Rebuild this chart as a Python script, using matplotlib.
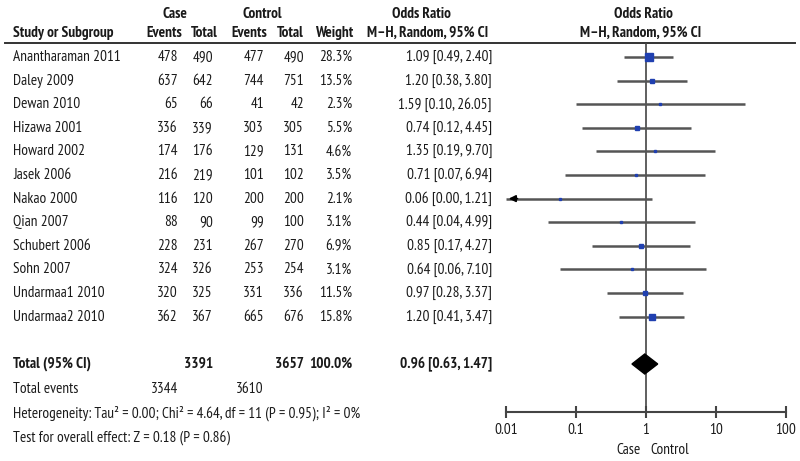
import numpy as np
import matplotlib
matplotlib.use('Agg')
import matplotlib.pyplot as plt
from matplotlib.patches import Polygon

plt.rcParams['font.family'] = ['PT Sans Narrow', 'DejaVu Sans']

# data
studies = ['Anantharaman 2011', 'Daley 2009', 'Dewan 2010', 'Hizawa 2001', 'Howard 2002',
           'Jasek 2006', 'Nakao 2000', 'Qian 2007', 'Schubert 2006', 'Sohn 2007',
           'Undarmaa1 2010', 'Undarmaa2 2010']
case_events = [478, 637, 65, 336, 174, 216, 116, 88, 228, 324, 320, 362]
case_total = [490, 642, 66, 339, 176, 219, 120, 90, 231, 326, 325, 367]
ctrl_events = [477, 744, 41, 303, 129, 101, 200, 99, 267, 253, 331, 665]
ctrl_total = [490, 751, 42, 305, 131, 102, 200, 100, 270, 254, 336, 676]
weights = [28.3, 13.5, 2.3, 5.5, 4.6, 3.5, 2.1, 3.1, 6.9, 3.1, 11.5, 15.8]
odds = [1.09, 1.20, 1.59, 0.74, 1.35, 0.71, 0.06, 0.44, 0.85, 0.64, 0.97, 1.20]
ci_low = [0.49, 0.38, 0.10, 0.12, 0.19, 0.07, 0.00, 0.04, 0.17, 0.06, 0.28, 0.41]
ci_high = [2.40, 3.80, 26.05, 4.45, 9.70, 6.94, 1.21, 4.99, 4.27, 7.10, 3.37, 3.47]

total_case_n, total_ctrl_n = 3391, 3657
total_case_ev, total_ctrl_ev = 3344, 3610
total_weight = 100.0
pooled_or, pooled_lo, pooled_hi = 0.96, 0.63, 1.47
axis_ticks = [0.01, 0.1, 1, 10, 100]
axis_labels = ['0.01', '0.1', '1', '10', '100']

W, H = 800, 461
fig = plt.figure(figsize=(8, 4.61), dpi=100)

# text layer in pixel units
tx = fig.add_axes([0, 0, 1, 1])
tx.set_xlim(0, W)
tx.set_ylim(H, 0)
tx.axis('off')

txt = '#1a1a1a'
fs = 11
row0, step = 57, 23.6
rows = [row0 + i * step for i in range(len(studies))]

def put(x, y, s, ha='right', bold=False):
    tx.text(x, y, s, ha=ha, va='center', fontsize=fs, color=txt,
            fontweight='bold' if bold else 'normal')

# headers
put(175, 14, 'Case', 'center', True)
put(262, 14, 'Control', 'center', True)
put(421, 14, 'Odds Ratio', 'center', True)
put(643, 14, 'Odds Ratio', 'center', True)
hy = 33
put(13, hy, 'Study or Subgroup', 'left', True)
for x, s in [(182, 'Events'), (218, 'Total'), (267, 'Events'), (304, 'Total'),
             (353, 'Weight'), (488, 'M–H, Random, 95% CI')]:
    put(x, hy, s, 'right', True)
put(641, hy, 'M–H, Random, 95% CI', 'center', True)
tx.plot([5, 795], [43, 43], color='#333333', lw=1.4)

# study rows
for i, y in enumerate(rows):
    put(13, y, studies[i], 'left')
    put(178, y, str(case_events[i]))
    put(213, y, str(case_total[i]))
    put(264, y, str(ctrl_events[i]))
    put(304, y, str(ctrl_total[i]))
    put(352, y, f'{weights[i]:.1f}%')
    put(492, y, f'{odds[i]:.2f} [{ci_low[i]:.2f}, {ci_high[i]:.2f}]')

# totals
ty = 364
put(13, ty, 'Total (95% CI)', 'left', True)
put(213, ty, str(total_case_n), bold=True)
put(304, ty, str(total_ctrl_n), bold=True)
put(352, ty, f'{total_weight:.1f}%', bold=True)
put(492, ty, f'{pooled_or:.2f} [{pooled_lo:.2f}, {pooled_hi:.2f}]', bold=True)
put(13, 389, 'Total events', 'left')
put(178, 389, str(total_case_ev))
put(264, 389, str(total_ctrl_ev))
put(13, 413, 'Heterogeneity: Tau² = 0.00; Chi² = 4.64, df = 11 (P = 0.95); I² = 0%', 'left')
put(13, 438, 'Test for overall effect: Z = 0.18 (P = 0.86)', 'left')
put(641, 450, 'Case', 'right')
put(650, 450, 'Control', 'left')

# forest panel
x0, x1, ytop, ybot = 506, 786, 43, 412
ax = fig.add_axes([x0 / W, (H - ybot) / H, (x1 - x0) / W, (ybot - ytop) / H])
ax.patch.set_alpha(0)
ax.set_xscale('log')
ax.set_xlim(axis_ticks[0], axis_ticks[-1])
ax.set_ylim(ybot, ytop)
for s in ['top', 'left', 'right']:
    ax.spines[s].set_visible(False)
ax.spines['bottom'].set_color('#444444')
ax.spines['bottom'].set_linewidth(1.5)
ax.set_yticks([])
ax.set_xticks(axis_ticks)
ax.set_xticklabels(axis_labels)
ax.minorticks_off()
ax.tick_params(axis='x', direction='inout', length=8, width=1.5, color='#444444',
               labelsize=fs, labelcolor=txt, pad=4)

ax.axvline(1, color='#444444', lw=1.2, zorder=1)

xmin = axis_ticks[0]
for i, y in enumerate(rows):
    lo = max(ci_low[i], xmin)
    ax.plot([lo, ci_high[i]], [y, y], color='#555555', lw=1.8, zorder=2, solid_capstyle='butt')
    if ci_low[i] < xmin:
        ax.annotate('', xy=(xmin, y), xytext=(xmin * 1.6, y),
                    arrowprops=dict(arrowstyle='-|>', color='black', lw=1.2,
                                    mutation_scale=10), zorder=3)
    ms = 1.35 * np.sqrt(weights[i]) * 0.72
    ax.plot(odds[i], y, marker='s', ms=ms, color='#2040b0', mec='#2040b0', zorder=3)

# pooled diamond
dia = Polygon([[pooled_lo, ty], [pooled_or, ty - 10], [pooled_hi, ty], [pooled_or, ty + 10]],
              closed=True, facecolor='black', edgecolor='black', zorder=4)
ax.add_patch(dia)

fig.savefig('out.png', dpi=100)
